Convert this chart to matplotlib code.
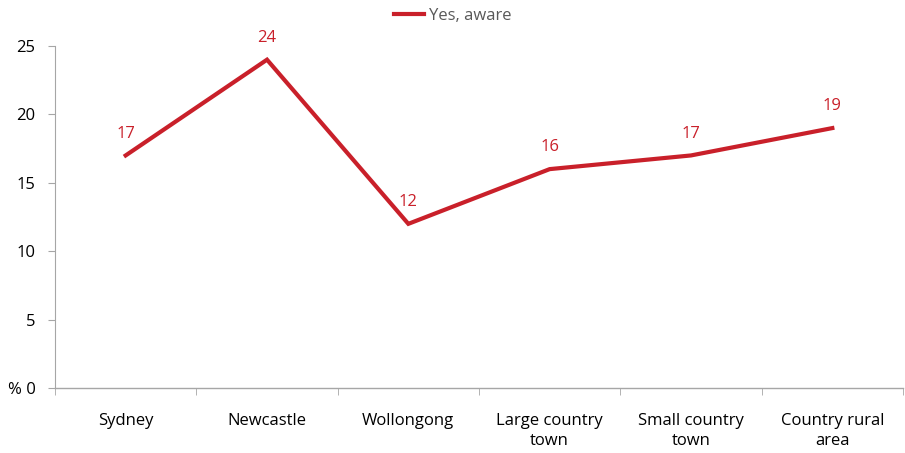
import matplotlib
matplotlib.use("Agg")
import matplotlib.pyplot as plt
from matplotlib.ticker import FixedLocator

categories = ["Sydney", "Newcastle", "Wollongong", "Large country\ntown", "Small country\ntown", "Country rural\narea"]
values = [17, 24, 12, 16, 17, 19]
series_name = "Yes, aware"
yticks = [0, 5, 10, 15, 20, 25]
ytick_labels = ["% 0", "5", "10", "15", "20", "25"]

plt.rcParams['font.family'] = ['Open Sans', 'DejaVu Sans']
red = "#C9202A"

fig = plt.figure(figsize=(9.05, 4.53), dpi=100)
ax = fig.add_axes([55/905, 65/453, 848/905, 342/453])

x = list(range(len(categories)))
ax.plot(x, values, color=red, lw=3, label=series_name, solid_joinstyle='miter')
for xi, v in zip(x, values):
    ax.annotate(str(v), (xi, v), xytext=(0, 10), textcoords="offset points",
                ha="center", va="bottom", color=red, fontsize=12)

ax.set_xlim(-0.5, len(categories) - 0.5)
ax.set_ylim(0, 25)
ax.set_yticks(yticks)
ax.set_yticklabels(ytick_labels, fontsize=12)
ax.set_xticks(x)
ax.set_xticklabels(categories, fontsize=12, linespacing=1.35)
ax.tick_params(axis='x', length=0, pad=18)
ax.xaxis.set_minor_locator(FixedLocator([i + 0.5 for i in range(-1, len(categories))]))
ax.tick_params(axis='x', which='minor', length=5, color="#A6A6A6", direction='out')
ax.tick_params(axis='y', length=5, color="#A6A6A6", pad=9)
for s in ["top", "right"]:
    ax.spines[s].set_visible(False)
for s in ["left", "bottom"]:
    ax.spines[s].set_color("#A6A6A6")
ax.spines["bottom"].set_linewidth(1)

fig.legend(loc="upper center", bbox_to_anchor=(0.5, 1.015), frameon=False, fontsize=12,
           handlelength=1.8, handletextpad=0.3, labelcolor="#595959")

fig.savefig("out.png", dpi=100)
